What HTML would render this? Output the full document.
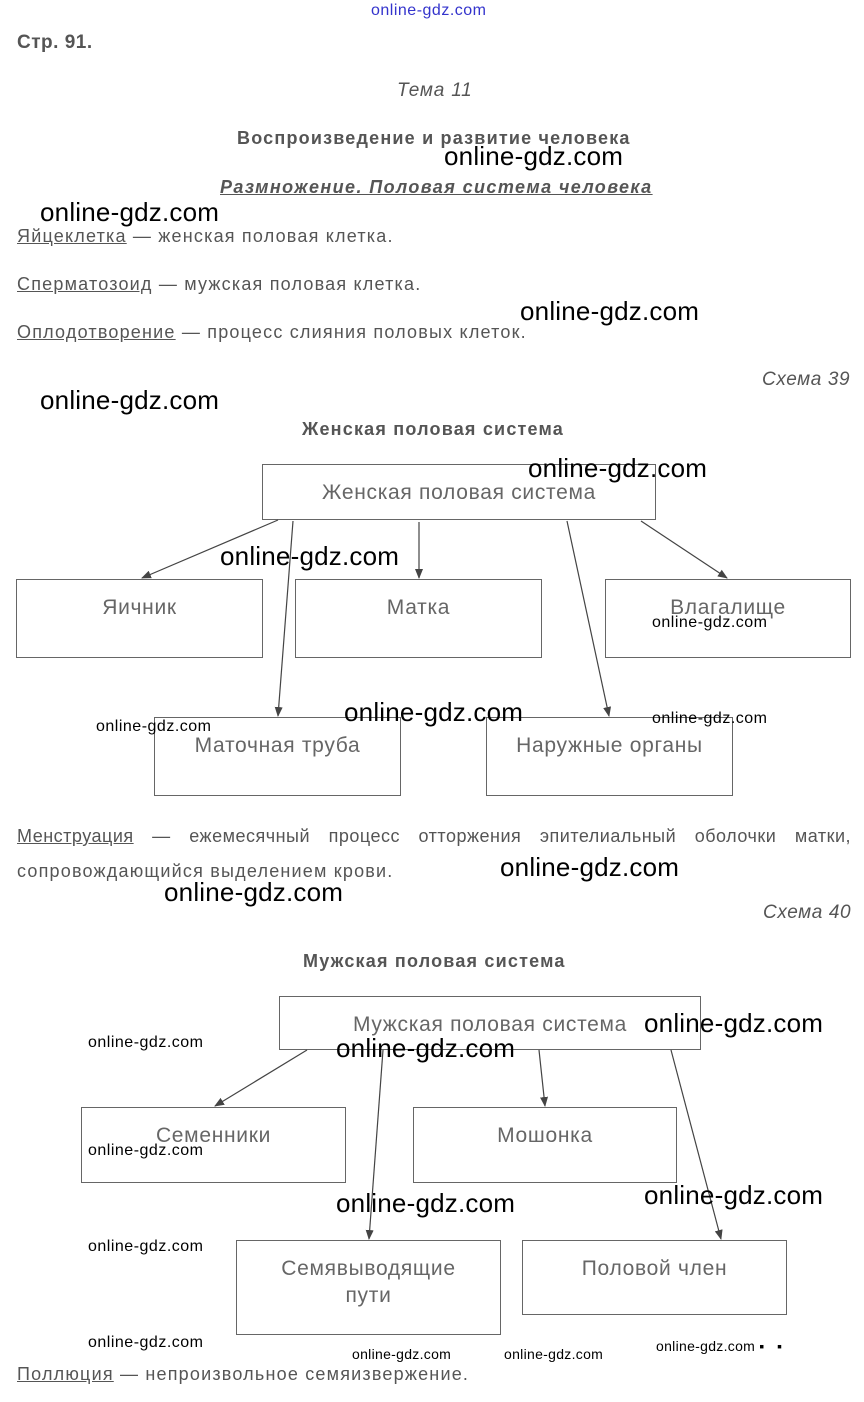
<!DOCTYPE html>
<html><head><meta charset="utf-8"><style>
body{margin:0;background:#fff;width:864px;height:1402px;position:relative;overflow:hidden;font-family:"Liberation Sans",sans-serif;color:#555}
.a{position:absolute;white-space:nowrap}
.t{font-size:18px;letter-spacing:1.2px}
.u{text-decoration:underline}
.h{font-size:18px;font-weight:bold;letter-spacing:1.2px}
.b{position:absolute;border:1px solid #666;box-sizing:border-box;text-align:center;font-size:21px;letter-spacing:0.7px;color:#666;line-height:1.3}
.w{position:absolute;white-space:nowrap;color:#000;font-family:"Liberation Sans",sans-serif;font-size:26px;letter-spacing:0.2px}
.s{position:absolute;white-space:nowrap;color:#000;font-size:16px;letter-spacing:0.5px}
</style></head><body>
<div class="a" style="left:371px;top:2px;font-size:16px;letter-spacing:0.5px;color:#33c">online-gdz.com</div>
<div class="a" style="left:17px;top:32px;font-size:19px;font-weight:bold;letter-spacing:0.5px">Стр. 91.</div>
<div class="a" style="left:397px;top:80px;font-size:19px;font-style:italic;letter-spacing:0.8px">Тема 11</div>
<div class="a h" style="left:237px;top:128px">Воспроизведение и развитие человека</div>
<div class="a u h" style="left:220px;top:177px;font-style:italic;letter-spacing:1.4px">Размножение. Половая система человека</div>
<div class="a t" style="left:17px;top:226px"><span class="u">Яйцеклетка</span> — женская половая клетка.</div>
<div class="a t" style="left:17px;top:274px"><span class="u">Сперматозоид</span> — мужская половая клетка.</div>
<div class="a t" style="left:17px;top:322px"><span class="u">Оплодотворение</span> — процесс слияния половых клеток.</div>
<div class="a" style="left:762px;top:369px;font-size:19px;font-style:italic;letter-spacing:0.6px">Схема 39</div>
<div class="a h" style="left:302px;top:419px">Женская половая система</div>

<div class="b" style="left:262px;top:464px;width:394px;height:56px;padding-top:14px">Женская половая система</div>
<div class="b" style="left:16px;top:579px;width:247px;height:79px;padding-top:14px">Яичник</div>
<div class="b" style="left:295px;top:579px;width:247px;height:79px;padding-top:14px">Матка</div>
<div class="b" style="left:605px;top:579px;width:246px;height:79px;padding-top:14px">Влагалище</div>
<div class="b" style="left:154px;top:717px;width:247px;height:79px;padding-top:14px">Маточная труба</div>
<div class="b" style="left:486px;top:717px;width:247px;height:79px;padding-top:14px">Наружные органы</div>

<div class="a t" style="left:17px;top:826px;width:834px;text-align:justify;text-align-last:justify;letter-spacing:0.5px"><span class="u">Менструация</span> — ежемесячный процесс отторжения эпителиальный оболочки матки,</div>
<div class="a t" style="left:17px;top:861px">сопровождающийся выделением крови.</div>
<div class="a" style="left:763px;top:902px;font-size:19px;font-style:italic;letter-spacing:0.6px">Схема 40</div>
<div class="a h" style="left:303px;top:951px">Мужская половая система</div>

<div class="b" style="left:279px;top:996px;width:422px;height:54px;padding-top:14px">Мужская половая система</div>
<div class="b" style="left:81px;top:1107px;width:265px;height:76px;padding-top:14px">Семенники</div>
<div class="b" style="left:413px;top:1107px;width:264px;height:76px;padding-top:14px">Мошонка</div>
<div class="b" style="left:236px;top:1240px;width:265px;height:95px;padding-top:14px">Семявыводящие<br>пути</div>
<div class="b" style="left:522px;top:1240px;width:265px;height:75px;padding-top:14px">Половой член</div>
<div class="a t" style="left:17px;top:1364px"><span class="u">Поллюция</span> — непроизвольное семяизвержение.</div>

<svg width="864" height="1402" style="position:absolute;left:0;top:0">
<defs><marker id="m" markerWidth="10" markerHeight="10" refX="9" refY="5" orient="auto" markerUnits="userSpaceOnUse"><path d="M0,1 L10,5 L0,9 z" fill="#444"/></marker></defs>
<g stroke="#444" stroke-width="1.2" marker-end="url(#m)">
<line x1="278" y1="520" x2="142" y2="578"/>
<line x1="419" y1="522" x2="419" y2="578"/>
<line x1="641" y1="521" x2="727" y2="578"/>
<line x1="293" y1="521" x2="278" y2="716"/>
<line x1="567" y1="521" x2="609" y2="716"/>
<line x1="307" y1="1050" x2="215" y2="1106"/>
<line x1="539" y1="1050" x2="545" y2="1106"/>
<line x1="383" y1="1050" x2="369" y2="1239"/>
<line x1="671" y1="1050" x2="721" y2="1239"/>
</g></svg>

<div class="w" style="left:444px;top:141px">online-gdz.com</div>
<div class="w" style="left:40px;top:197px">online-gdz.com</div>
<div class="w" style="left:520px;top:296px">online-gdz.com</div>
<div class="w" style="left:40px;top:385px">online-gdz.com</div>
<div class="w" style="left:528px;top:453px">online-gdz.com</div>
<div class="w" style="left:220px;top:541px">online-gdz.com</div>
<div class="s" style="left:652px;top:614px">online-gdz.com</div>
<div class="w" style="left:344px;top:697px">online-gdz.com</div>
<div class="s" style="left:96px;top:718px">online-gdz.com</div>
<div class="s" style="left:652px;top:710px">online-gdz.com</div>
<div class="w" style="left:500px;top:852px">online-gdz.com</div>
<div class="w" style="left:164px;top:877px">online-gdz.com</div>
<div class="w" style="left:644px;top:1008px">online-gdz.com</div>
<div class="s" style="left:88px;top:1034px">online-gdz.com</div>
<div class="w" style="left:336px;top:1033px">online-gdz.com</div>
<div class="s" style="left:88px;top:1142px">online-gdz.com</div>
<div class="w" style="left:644px;top:1180px">online-gdz.com</div>
<div class="w" style="left:336px;top:1188px">online-gdz.com</div>
<div class="s" style="left:88px;top:1238px">online-gdz.com</div>
<div class="s" style="left:88px;top:1334px">online-gdz.com</div>
<div class="s" style="left:352px;top:1346px;font-size:14px;letter-spacing:0.3px">online-gdz.com</div>
<div class="s" style="left:504px;top:1346px;font-size:14px;letter-spacing:0.3px">online-gdz.com</div>
<div class="s" style="left:656px;top:1338px;font-size:14px;letter-spacing:0.3px">online-gdz.com ▪ &nbsp; ▪</div>
</body></html>
